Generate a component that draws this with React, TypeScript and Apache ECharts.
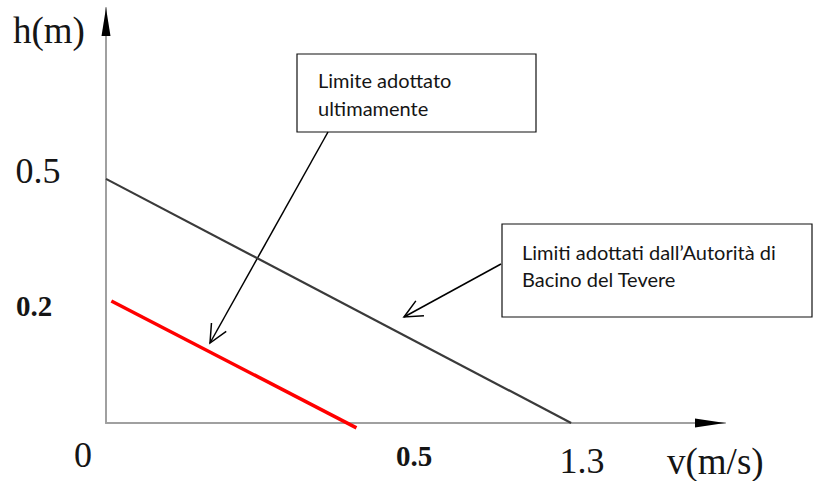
import React, { useEffect, useRef } from "react";
import * as echarts from "echarts";

// ---- data ----
const xAxisMax = 1.73; // v (m/s) at the arrow tip
const yAxisMax = 0.85; // h (m) at the arrow tip
const tevereLimit: [number, number][] = [
  [0, 0.5],
  [1.3, 0],
];
const recentLimit: [number, number][] = [
  [0.015, 0.25],
  [0.7, -0.01],
];
const yTickLabels = ["0.5", "0.2"];
const xTickLabels = ["0", "0.5", "1.3"];
const axisTitles = ["h(m)", "v(m/s)"];
const calloutRecent = ["Limite adottato", "ultimamente"];
const calloutTevere = ["Limiti adottati dall\u2019Autorità di", "Bacino del Tevere"];

const SERIF = "'Liberation Serif', 'DejaVu Serif', serif";
const SANS = "Lato, 'Open Sans', sans-serif";

function arrow(x1: number, y1: number, x2: number, y2: number) {
  const dx = x1 - x2;
  const dy = y1 - y2;
  const len = Math.hypot(dx, dy);
  const ux = dx / len;
  const uy = dy / len;
  const L = 20;
  const a = (25 * Math.PI) / 180;
  const c = Math.cos(a);
  const s = Math.sin(a);
  const w1 = [x2 + L * (ux * c - uy * s), y2 + L * (ux * s + uy * c)];
  const w2 = [x2 + L * (ux * c + uy * s), y2 + L * (-ux * s + uy * c)];
  return [
    {
      type: "line",
      shape: { x1, y1, x2, y2 },
      style: { stroke: "#000", lineWidth: 1.5 },
      silent: true,
    },
    {
      type: "polyline",
      shape: { points: [w1, [x2, y2], w2] },
      style: { stroke: "#000", lineWidth: 1.5, fill: null },
      silent: true,
    },
  ];
}

function label(text: string, x: number, y: number, font: string, align = "center") {
  return {
    type: "text",
    x,
    y,
    silent: true,
    style: { text, font, fill: "#151515", align, verticalAlign: "middle" },
  };
}

export default function App() {
  const ref = useRef<HTMLDivElement>(null);
  useEffect(() => {
    const chart = echarts.init(ref.current!, null, { renderer: "svg" });
    const axisCommon = {
      type: "value",
      min: 0,
      axisLine: { show: true, onZero: false, lineStyle: { color: "#a0a0a0", width: 2 } },
      axisTick: { show: false },
      axisLabel: { show: false },
      splitLine: { show: false },
    };
    chart.setOption({
      animation: false,
      backgroundColor: "#fff",
      grid: { left: 106, right: 90, top: 8, bottom: 58 },
      xAxis: { ...axisCommon, max: xAxisMax },
      yAxis: { ...axisCommon, max: yAxisMax },
      series: [
        {
          name: "Autorità di Bacino del Tevere",
          type: "line",
          data: tevereLimit,
          symbol: "none",
          clip: false,
          lineStyle: { color: "#3a3a3a", width: 2.2 },
          z: 3,
        },
        {
          name: "Limite adottato ultimamente",
          type: "line",
          data: recentLimit,
          symbol: "none",
          clip: false,
          lineStyle: { color: "#ff0000", width: 3.5 },
          z: 4,
        },
        {
          name: "axisArrows",
          type: "scatter",
          silent: true,
          clip: false,
          z: 5,
          itemStyle: { color: "#000", opacity: 1 },
          data: [
            {
              value: [xAxisMax, 0],
              symbol: "triangle",
              symbolSize: [9, 30],
              symbolRotate: -90,
              symbolOffset: [-15, 0],
            },
            {
              value: [0, yAxisMax],
              symbol: "triangle",
              symbolSize: [9, 28],
              symbolOffset: [0, 14],
            },
          ],
        },
      ],
      graphic: [
        label(axisTitles[0], 13, 30, `37px ${SERIF}`, "left"),
        label(axisTitles[1], 667, 461, `37px ${SERIF}`, "left"),
        label(yTickLabels[0], 38, 171, `36px ${SERIF}`),
        label(yTickLabels[1], 34, 306, `bold 29px ${SERIF}`),
        label(xTickLabels[0], 83, 455, `36px ${SERIF}`),
        label(xTickLabels[1], 414, 456, `bold 29px ${SERIF}`),
        label(xTickLabels[2], 582, 461, `36px ${SERIF}`),
        {
          type: "rect",
          shape: { x: 297, y: 54, width: 239, height: 78 },
          style: { fill: "#fff", stroke: "#111", lineWidth: 1.2 },
          silent: true,
        },
        label(calloutRecent[0], 318, 80, `20px ${SANS}`, "left"),
        label(calloutRecent[1], 318, 108, `20px ${SANS}`, "left"),
        {
          type: "rect",
          shape: { x: 502, y: 224, width: 310, height: 93 },
          style: { fill: "#fff", stroke: "#111", lineWidth: 1.2 },
          silent: true,
        },
        label(calloutTevere[0], 522, 252, `20px ${SANS}`, "left"),
        label(calloutTevere[1], 522, 279, `20px ${SANS}`, "left"),
        ...arrow(328, 132, 210, 343),
        ...arrow(501, 264, 404, 317),
      ],
    });
    return () => chart.dispose();
  }, []);
  return (
    <div
      ref={ref}
      style={{ position: "fixed", left: 0, top: 0, width: 815, height: 481, background: "#fff" }}
    />
  );
}
